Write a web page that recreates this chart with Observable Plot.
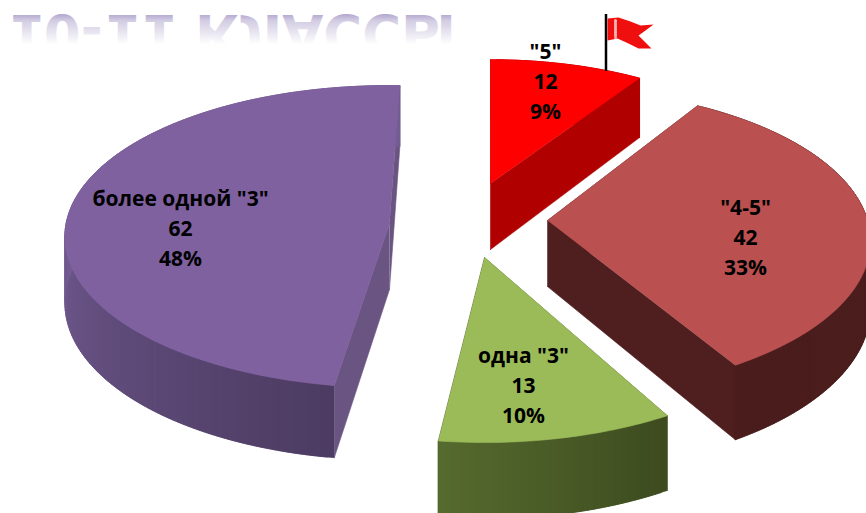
<!DOCTYPE html>
<html><head><meta charset="utf-8">
<script src="https://cdn.jsdelivr.net/npm/d3@7"></script>
<script src="https://cdn.jsdelivr.net/npm/@observablehq/plot@0.6"></script>
<style>html,body{margin:0;padding:0;background:#fff;overflow:hidden}svg{display:block}</style>
</head><body><div id="chart"></div>
<script>
const categories = ['"5"', '"4-5"', 'одна "3"', 'более одной "3"'];
const counts = [12, 42, 13, 62];
const titleText = "10-11 КЛАССЫ";

// styles
const topColors = ["#ff0000", "#bb5050", "#9bbb59", "#7f61a0"];
const faceColors = ["#b00000", "#4f1f1f", "#4f6228", "#6a5482"];
const rimFrom = ["#b00000", "#4f1f1f", "#566b2e", "#735c92"];
const rimTo = ["#b00000", "#4a1c1c", "#3d4b1f", "#4c3b62"];

// layout: tip of each exploded slice, its label, and per-slice view tweaks
const tips = [[490, 183], [547, 220], [484, 257], [389, 223]];
const labelAt = [[545, 79], [745, 235], [523, 383], [180, 226]];
const scaleX = [0.91, 0.97, 1, 0.98];
const scaleY = [0.955, 1.02, 1.09, 1.02];
const turn = [0, -2, 0, 2];
const perspective = [0.134, 0.134, 0.134, 0.087];
const R = 330, Ry = 147, depth = 66;

const total = d3.sum(counts);
const pie = d3.pie().sort(null)(counts);

const project = (i, X, Y, Z) => {
  const w = 1 + perspective[i] * Y;
  return {
    x: tips[i][0] + R * scaleX[i] * X / w,
    y: tips[i][1] - Ry * scaleY[i] * Y / w + depth * Z / w
  };
};
const rows = [];
let id = 0;
const poly = (pts, color) => { const k = id++; for (const p of pts) rows.push({...p, id: k, color}); };

pie.forEach(s => {
  const i = s.index;
  const offset = turn[i] * Math.PI / 180;
  const start = s.startAngle + offset;
  const end = s.endAngle + offset;
  const at = (a, z) => project(i, Math.sin(a), Math.cos(a), z);
  const tip = z => project(i, 0, 0, z);
  // cut faces
  poly([tip(0), at(start, 0), at(start, 1), tip(1)], faceColors[i]);
  poly([tip(0), at(end, 0), at(end, 1), tip(1)], faceColors[i]);
  // rim, shaded along the arc; each segment overlaps the next so no seams show
  const steps = Math.max(8, Math.round((end - start) / 0.02));
  const shade = d3.interpolateRgb(rimFrom[i], rimTo[i]);
  const angle = t => start + (end - start) * t;
  for (let k = 0; k < steps; k++) {
    const a0 = angle(k / steps), a1 = angle(Math.min(1, (k + 2) / steps));
    const u = k / steps;
    const t = i === 3 ? Math.max(0, 1 - 2 * u) : 1 - u;
    poly([at(a0, 0), at(a1, 0), at(a1, 1), at(a0, 1)], shade(i === 3 || i === 2 ? t : u));
  }
  // top surface
  const top = [tip(0)];
  for (let k = 0; k <= steps; k++) top.push(at(angle(k / steps), 0));
  poly(top, topColors[i]);
});

const labels = pie.map(s => ({
  x: labelAt[s.index][0], y: labelAt[s.index][1],
  text: `${categories[s.index]}\n${counts[s.index]}\n${Math.round(counts[s.index] / total * 100)}%`
}));

// decoration: the little flag on the "5" slice
const pole = [{x: 605.5, y1: 14, y2: 71}];
const flag = [[607,18],[618,17],[630,21],[640,25],[653,24],[645,30],[638,35],[645,42],[651,48],[638,48],[628,43],[617,38],[607,40]].map(([x,y]) => ({x,y}));
const stitch = [{x:615,y:20},{x:615,y:37}];

const chart = Plot.plot({
  width: 866, height: 513, margin: 0,
  x: {domain: [0, 866], range: [0, 866], axis: null},
  y: {domain: [0, 513], range: [0, 513], axis: null},
  color: {type: "identity"},
  style: {background: "#fff"},
  marks: [
    Plot.text([{x: 231, y: 14, t: titleText}], {x: "x", y: "y", text: "t", fill: "url(#fade)", fontSize: 53, fontWeight: 700, fontFamily: "DejaVu Sans", textAnchor: "middle", lineAnchor: "bottom"}),
    Plot.line(rows, {x: "x", y: "y", z: "id", fill: "color", stroke: "color", strokeWidth: 0.6}),
    Plot.ruleX(pole, {x: "x", y1: "y1", y2: "y2", stroke: "#000", strokeWidth: 2.5}),
    Plot.line(flag, {x: "x", y: "y", fill: "#f00f0f", stroke: "none"}),
    Plot.line(stitch, {x: "x", y: "y", stroke: "#ffb0b0", strokeWidth: 3, strokeDasharray: "1.2 1.6"}),
    Plot.text(labels, {x: "x", y: "y", text: "text", fontSize: 21, fontWeight: 700, lineHeight: 1.43, fontFamily: "Open Sans", fill: "#000", textAnchor: "middle"})
  ]
});

// fading mirrored title
const ns = "http://www.w3.org/2000/svg";
const defs = document.createElementNS(ns, "defs");
defs.innerHTML = `<linearGradient id="fade" gradientUnits="userSpaceOnUse" x1="0" y1="0" x2="0" y2="-30">
  <stop offset="0" stop-color="#b4a8d0"/><stop offset="0.2" stop-color="#d2cce2"/><stop offset="1" stop-color="#ffffff"/></linearGradient>`;
chart.insertBefore(defs, chart.firstChild);
for (const t of chart.querySelectorAll("text")) {
  if (t.textContent === titleText) {
    t.setAttribute("transform", "translate(231,14) scale(1,-1)");
    t.setAttribute("dy", "0");
  }
}
document.getElementById("chart").appendChild(chart);
</script></body></html>
